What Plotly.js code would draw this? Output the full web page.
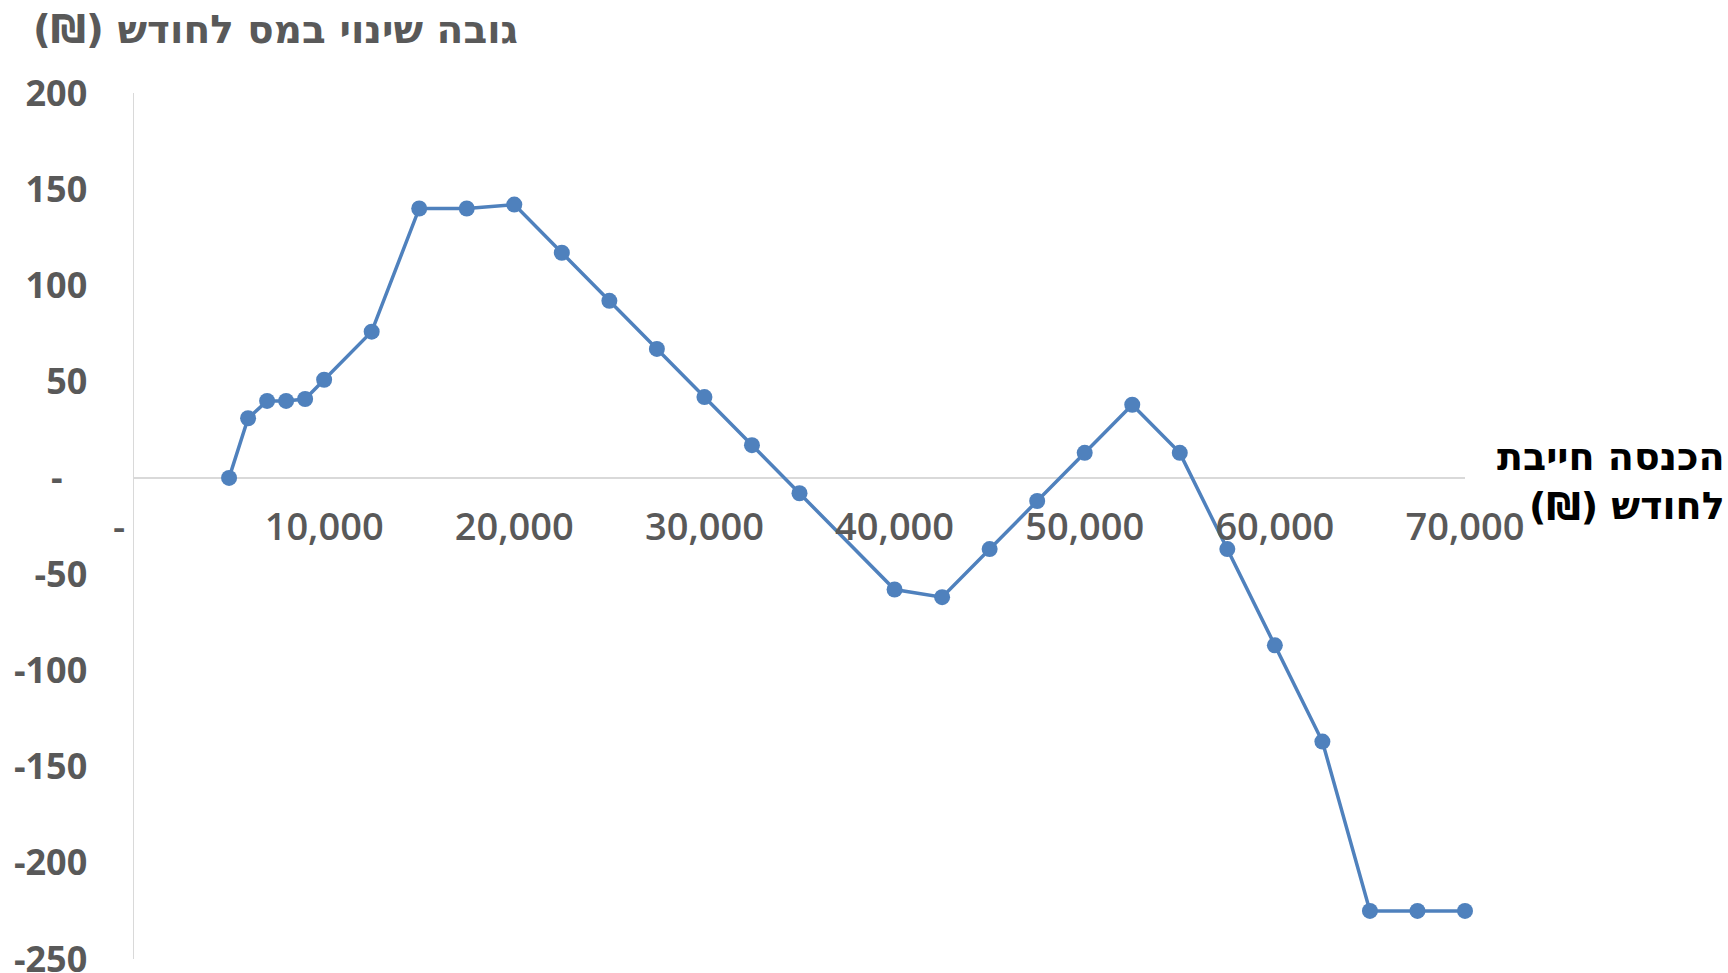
<!DOCTYPE html>
<html>
<head>
<meta charset="utf-8">
<script src="https://cdn.plot.ly/plotly-3.0.1.min.js"></script>
<style>
  html, body { margin: 0; padding: 0; background: #ffffff; }
  #chart { width: 1728px; height: 973px; }
</style>
</head>
<body>
<div id="chart"></div>
<script>
// Taxable monthly income (₪)
const incomes = [5000, 6000, 7000, 8000, 9000, 10000, 12500, 15000, 17500, 20000,
                 22500, 25000, 27500, 30000, 32500, 35000, 40000, 42500, 45000, 47500,
                 50000, 52500, 55000, 57500, 60000, 62500, 65000, 67500, 70000];
// Monthly tax change (₪)
const taxChange = [0, 31, 40, 40, 41, 51, 76, 140, 140, 142,
                   117, 92, 67, 42, 17, -8, -58, -62, -37, -12,
                   13, 38, 13, -37, -87, -137, -225, -225, -225];

const xTickVals = [0, 10000, 20000, 30000, 40000, 50000, 60000, 70000];
const xTickText = ['-\u00a0\u00a0\u00a0', '10,000', '20,000', '30,000', '40,000', '50,000', '60,000', '70,000'];
const yTickVals = [200, 150, 100, 50, 0, -50, -100, -150, -200, -250];
const yTickText = ['200', '150', '100', '50', '-\u00a0\u00a0\u2009', '-50', '-100', '-150', '-200', '-250'];

const chartTitle = 'גובה שינוי במס לחודש (₪)\u200F';
const xTitle = 'הכנסה חייבת<br>לחודש (₪)\u200F';

const xRange = [0, 70000];
const yRange = [-250, 200];

const trace = {
  type: 'scatter',
  mode: 'lines+markers',
  x: incomes,
  y: taxChange,
  line: { color: '#4F81BD', width: 3.5 },
  marker: { color: '#4F81BD', size: 16 },
  cliponaxis: false,
  hoverinfo: 'x+y'
};

const layout = {
  width: 1728,
  height: 973,
  paper_bgcolor: '#ffffff',
  plot_bgcolor: '#ffffff',
  showlegend: false,
  margin: { l: 134, r: 263, t: 93, b: 14 },
  title: {
    text: chartTitle,
    font: { family: 'DejaVu Sans, sans-serif', size: 39, color: '#595959', weight: 'bold' },
    xref: 'container', x: 33 / 1728, xanchor: 'left',
    yref: 'container', y: 1 - 29 / 973, yanchor: 'middle'
  },
  xaxis: {
    range: xRange,
    anchor: 'free',
    position: (0 - yRange[0]) / (yRange[1] - yRange[0]),
    showgrid: false,
    zeroline: false,
    showline: false,
    ticks: '',
    tickmode: 'array',
    tickvals: xTickVals,
    ticktext: xTickText,
    ticklabelstandoff: 23,
    ticklabeloverflow: 'allow',
    tickfont: { family: 'Open Sans, sans-serif', size: 38, color: '#595959', weight: 600 }
  },
  yaxis: {
    range: yRange,
    showgrid: false,
    showline: true,
    linecolor: '#d9d9d9',
    linewidth: 1.5,
    zeroline: true,
    zerolinecolor: '#d9d9d9',
    zerolinewidth: 1.5,
    ticks: '',
    tickmode: 'array',
    tickvals: yTickVals,
    ticktext: yTickText,
    ticklabelstandoff: 38,
    ticklabeloverflow: 'allow',
    tickfont: { family: 'Open Sans, sans-serif', size: 36, color: '#595959', weight: 'bold' }
  },
  annotations: [{
    text: xTitle,
    xref: 'paper', x: (1727 - 134) / (1728 - 134 - 263), xanchor: 'right',
    yref: 'paper', y: 0.551, yanchor: 'middle',
    align: 'right',
    showarrow: false,
    font: { family: 'DejaVu Sans, sans-serif', size: 38, color: '#000000', weight: 'bold' }
  }]
};

Plotly.newPlot('chart', [trace], layout, { displayModeBar: false, staticPlot: true });
</script>
</body>
</html>
